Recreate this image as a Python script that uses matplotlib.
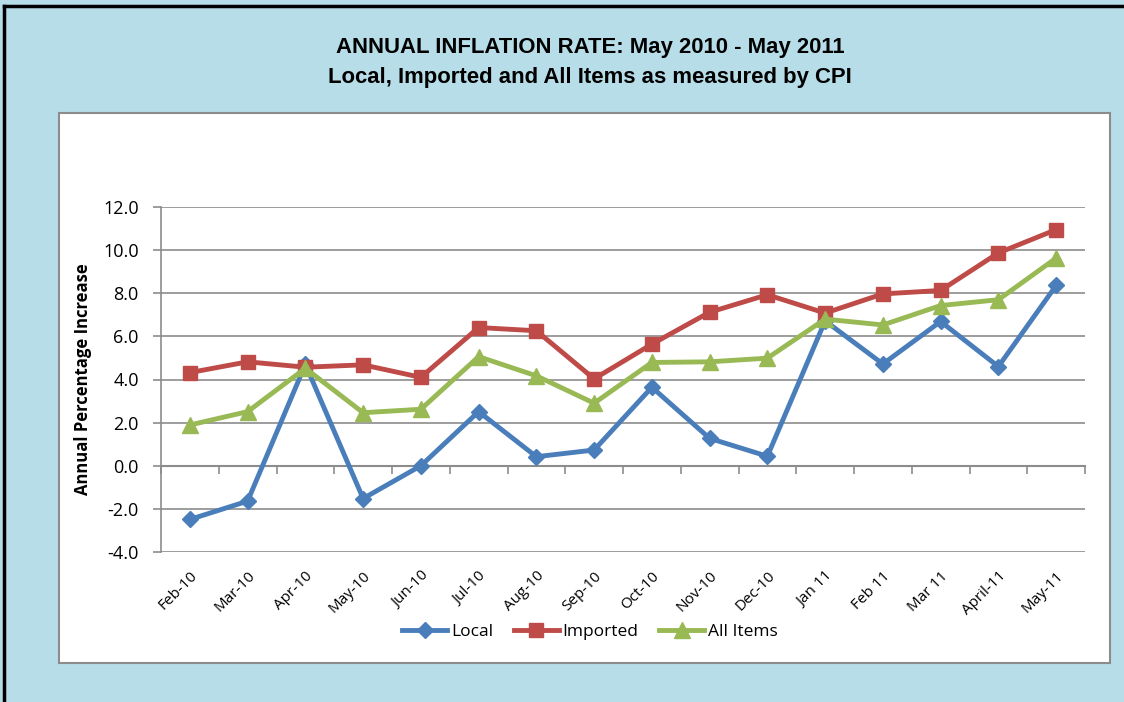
import matplotlib.pyplot as plt
from matplotlib.patches import Rectangle
from matplotlib.lines import Line2D

# chart data
MONTHS = ['Feb-10', 'Mar-10', 'Apr-10', 'May-10', 'Jun-10', 'Jul-10', 'Aug-10',
          'Sep-10', 'Oct-10', 'Nov-10', 'Dec-10', 'Jan 11', 'Feb 11', 'Mar 11',
          'April-11', 'May-11']
LOCAL = [-2.49, -1.64, 4.7, -1.52, 0.0, 2.51, 0.42, 0.73, 3.64, 1.27, 0.44,
         6.72, 4.72, 6.69, 4.6, 8.36]
IMPORTED = [4.32, 4.82, 4.57, 4.68, 4.1, 6.41, 6.26, 4.03, 5.64, 7.12, 7.93,
            7.08, 7.97, 8.13, 9.87, 10.95]
ALL_ITEMS = [1.89, 2.51, 4.52, 2.46, 2.62, 5.06, 4.17, 2.9, 4.79, 4.82, 4.99,
             6.8, 6.53, 7.43, 7.7, 9.63]
Y_TICKS = [-4, -2, 0, 2, 4, 6, 8, 10, 12]

BLUE = '#4A7EBB'
RED = '#BE4B48'
GREEN = '#98B954'
BG = '#B7DDE8'

W, H = 1124, 702
fig = plt.figure(figsize=(W / 100, H / 100), dpi=100)
fig.patch.set_facecolor(BG)

# outer black border (left and top only) and inner white panel
fig.add_artist(Line2D([4 / W, 4 / W], [0, 1 - 6 / H], color='black', lw=2.5))
fig.add_artist(Line2D([4 / W, 1], [1 - 6 / H, 1 - 6 / H], color='black', lw=2.5))
fig.add_artist(Rectangle((59 / W, 1 - 663 / H), (1110 - 59) / W, (663 - 113) / H,
                         facecolor='white', edgecolor='#8c8c8c', lw=1.5,
                         zorder=-5))

# titles
fig.text(590 / W, 1 - 48 / H, 'ANNUAL INFLATION RATE: May 2010 - May 2011',
         ha='center', va='center', fontsize=15.9, fontweight='bold',
         family='Liberation Sans')
fig.text(590 / W, 1 - 78 / H, 'Local, Imported and All Items as measured by CPI',
         ha='center', va='center', fontsize=15.9, fontweight='bold',
         family='Liberation Sans')

ax = fig.add_axes([161 / W, 1 - 552 / H, (1085 - 161) / W, (552 - 207) / H])
ax.set_facecolor('white')
x = list(range(len(MONTHS)))

ax.plot(x, LOCAL, color=BLUE, lw=3.5, marker='D', ms=8, label='Local', zorder=3)
ax.plot(x, IMPORTED, color=RED, lw=3.5, marker='s', ms=10, label='Imported', zorder=3)
ax.plot(x, ALL_ITEMS, color=GREEN, lw=3.5, marker='^', ms=11, label='All Items', zorder=3)

ax.set_xlim(-0.5, len(MONTHS) - 0.5)
ax.set_ylim(-4, 12)
ax.set_yticks(Y_TICKS)
ax.set_yticklabels([f'{v:.1f}' for v in Y_TICKS], fontsize=13, family='Open Sans')
ax.yaxis.grid(True, color='#8c8c8c', lw=1.2)
ax.set_axisbelow(True)
ax.tick_params(axis='y', length=6, color='#8c8c8c', width=1.2, pad=10)

for side in ['top', 'right']:
    ax.spines[side].set_visible(False)
ax.spines['left'].set_color('#8c8c8c')
ax.spines['left'].set_linewidth(1.2)
# category axis crosses at zero
ax.spines['bottom'].set_position(('data', 0))
ax.spines['bottom'].set_color('#8c8c8c')
ax.spines['bottom'].set_linewidth(1.5)
ax.set_xticks([i - 0.5 for i in range(len(MONTHS) + 1)])
ax.set_xticklabels([])
ax.tick_params(axis='x', length=6, color='#8c8c8c', width=1.2)

# month labels at the bottom of the plot
sec = ax.secondary_xaxis(0)
sec.set_xticks(x)
sec.set_xticklabels(MONTHS, rotation=45, ha='right', rotation_mode='anchor',
                    fontsize=11, family='Open Sans')
sec.tick_params(length=0, pad=12)
sec.spines['bottom'].set_visible(False)

ax.set_ylabel('Annual Percentage Increase', fontsize=12, fontweight='bold',
              family='Open Sans', labelpad=8)

leg = ax.legend(loc='center', bbox_to_anchor=(590 / W, 1 - 632 / H),
                bbox_transform=fig.transFigure, ncol=3, frameon=False,
                handlelength=2.6, columnspacing=1.2,
                handletextpad=0.2, prop={'family': 'Open Sans', 'size': 12.5})

fig.savefig('out.png', dpi=100, facecolor=fig.get_facecolor())
